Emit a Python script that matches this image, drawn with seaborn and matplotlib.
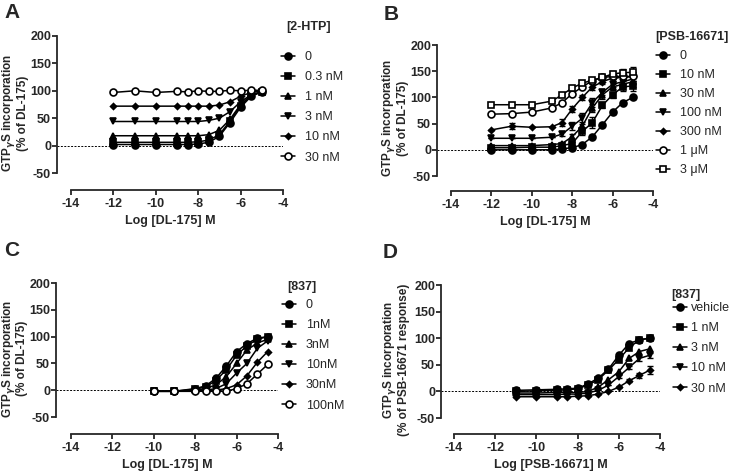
import numpy as np
import matplotlib
matplotlib.use("Agg")
import matplotlib.pyplot as plt
import seaborn as sns

sns.set_style("ticks")
plt.rcParams['font.family'] = ['Liberation Sans', 'DejaVu Sans']
plt.rcParams['font.weight'] = 'bold'
plt.rcParams['axes.labelweight'] = 'bold'
plt.rcParams['axes.unicode_minus'] = False

# ---------------- data ----------------
# Panel A: [2-HTP] vs DL-175
x_a = [-12, -11, -10, -9, -8.5, -8, -7.5, -7, -6.5, -6, -5.5, -5]
labels_a = ["0", "0.3 nM", "1 nM", "3 nM", "10 nM", "30 nM"]
a_0 = [2, 2, 2, 2, 2, 3, 6, 17, 42, 70, 90, 98]
a_03 = [6, 6, 6, 6, 6, 7, 10, 20, 45, 73, 92, 98]
a_1 = [18, 18, 18, 18, 18, 18, 20, 28, 48, 75, 92, 98]
a_3 = [44, 44, 44, 44, 44, 44, 46, 50, 62, 80, 93, 98]
a_10 = [72, 72, 72, 72, 72, 72, 72, 74, 80, 90, 97, 100]
a_30 = [97, 100, 97, 99, 98, 100, 99, 99, 101, 100, 101, 101]

# Panel B: [PSB-16671] vs DL-175
x_b = [-12, -11, -10, -9, -8.5, -8, -7.5, -7, -6.5, -6, -5.5, -5]
labels_b = ["0", "10 nM", "30 nM", "100 nM", "300 nM", "1 \u03bcM", "3 \u03bcM"]
b_0 = [0, 0, 0, 0, 2, 4, 10, 25, 48, 72, 90, 100]
b_10 = [4, 4, 5, 5, 8, 12, 35, 52, 85, 105, 120, 122]
b_30 = [8, 8, 8, 10, 12, 25, 45, 80, 105, 120, 125, 130]
b_100 = [22, 22, 22, 24, 30, 45, 60, 90, 110, 125, 130, 135]
b_300 = [38, 45, 43, 44, 52, 78, 100, 120, 130, 137, 138, 140]
b_1u = [68, 69, 72, 80, 90, 107, 120, 132, 138, 140, 140, 140]
b_3u = [86, 86, 86, 93, 105, 118, 127, 133, 138, 145, 147, 148]
err_b_0 = [0, 0, 0, 0, 0, 0, 2, 3, 3, 3, 3, 3]
err_b_10 = [0, 0, 0, 0, 0, 3, 6, 10, 6, 6, 8, 10]
err_b_30 = [0, 0, 0, 0, 2, 5, 8, 8, 8, 6, 6, 10]
err_b_100 = [0, 0, 0, 0, 4, 8, 10, 8, 6, 5, 5, 8]
err_b_300 = [0, 6, 0, 0, 6, 5, 5, 5, 5, 5, 5, 8]
err_b_1u = [0, 0, 0, 0, 3, 3, 3, 3, 3, 5, 6, 8]
err_b_3u = [0, 0, 0, 0, 3, 3, 3, 3, 3, 5, 8, 10]

# Panel C: [837] vs DL-175
x_c = [-10, -9, -8, -7.5, -7, -6.5, -6, -5.5, -5, -4.5]
labels_c = ["0", "1nM", "3nM", "10nM", "30nM", "100nM"]
c_0 = [-2, -2, 3, 8, 22, 45, 72, 87, 97, 100]
c_1 = [-2, -2, 2, 6, 18, 38, 65, 83, 95, 100]
c_3 = [-2, -2, 0, 3, 10, 25, 50, 75, 88, 95]
c_10 = [-2, -2, -1, 0, 3, 12, 32, 50, 78, 92]
c_30 = [-2, -2, -2, -1, 0, 3, 10, 27, 52, 72]
c_100 = [-2, -2, -2, -2, -2, -2, 3, 12, 30, 48]

# Panel D: [837] vs PSB-16671
x_d = [-11, -10, -9, -8.5, -8, -7.5, -7, -6.5, -6, -5.5, -5, -4.5]
labels_d = ["vehicle", "1 nM", "3 nM", "10 nM", "30 nM"]
d_veh = [2, 3, 4, 5, 6, 14, 25, 42, 68, 90, 97, 100]
d_1 = [0, 1, 2, 3, 5, 12, 22, 40, 60, 82, 97, 100]
d_3 = [-3, -3, -2, -2, -2, 0, 8, 22, 37, 62, 75, 80]
d_10 = [-6, -6, -6, -5, -5, -3, 2, 12, 28, 45, 62, 68]
d_30 = [-10, -10, -10, -10, -9, -8, -5, 0, 8, 20, 30, 40]
err_d_30 = [0, 0, 0, 0, 0, 0, 0, 0, 2, 3, 4, 8]
err_d_10 = [0, 0, 0, 0, 0, 0, 0, 0, 3, 3, 4, 5]

# marker styles: (marker, filled, size)
m_fc = ("o", True, 5)
m_fs = ("s", True, 5)
m_ut = ("^", True, 5)
m_dt = ("v", True, 5)
m_di = ("D", True, 3)
m_oc = ("o", False, 5)
m_os = ("s", False, 5)

W, H = 729, 471
fig = plt.figure(figsize=(W / 100, H / 100), dpi=100)


def box(l, t, r, b):
    return [l / W, 1 - b / H, (r - l) / W, (b - t) / H]


def draw(ax, x, series, labels, markers, errs=None):
    for i, (y, lab, mk) in enumerate(zip(series, labels, markers)):
        m, filled, ms = mk
        fc = "black" if filled else "white"
        if errs is not None and errs[i] is not None:
            ax.errorbar(x, y, yerr=errs[i], fmt="none", ecolor="black",
                        elinewidth=1.0, capsize=2.5, capthick=1.0, zorder=2)
        sns.lineplot(x=x, y=y, ax=ax, color="black", linewidth=1.1,
                     marker=m, markersize=ms, markerfacecolor=fc,
                     markeredgecolor="black", markeredgewidth=1.2,
                     label=lab, zorder=3, clip_on=False)


def style(ax, xlim_lo, ylim_lo, xlabel, ylabel, ylab_right, title, title_xy,
          leg_xy, spacing=0.65, textpad=0.8):
    ax.set_xlim(xlim_lo, -4)
    ax.set_ylim(ylim_lo, 200)
    ax.axhline(0, color="black", linestyle=(0, (2, 1.5)), linewidth=0.7, zorder=1)
    sns.despine(ax=ax)
    ax.spines["left"].set_bounds(-50, 200)
    ax.spines["bottom"].set_bounds(-14, -4)
    for sp in ("left", "bottom"):
        ax.spines[sp].set_linewidth(1.3)
    ax.set_xticks([-14, -12, -10, -8, -6, -4])
    ax.set_yticks([-50, 0, 50, 100, 150, 200])
    ax.tick_params(width=1.3, length=3.5, labelsize=9)
    ax.tick_params(axis="y", pad=0.8)
    ax.tick_params(axis="x", pad=2)
    ax.set_xlabel(xlabel, fontsize=9, labelpad=4)
    ax.set_ylabel(ylabel, fontsize=8.5, linespacing=0.95)
    # place the y label by its right edge (pixel column in the figure)
    bb = ax.get_position()
    ax.yaxis.set_label_coords((ylab_right / W - bb.x0) / bb.width, 0.5)
    ax.legend(loc="upper left", frameon=False,
              bbox_to_anchor=(leg_xy[0] / W, 1 - (leg_xy[1] - 6) / H),
              bbox_transform=fig.transFigure, borderpad=0,
              borderaxespad=0, handlelength=1.1, handletextpad=textpad,
              labelspacing=spacing, prop={"size": 9, "weight": "normal"})
    fig.text(title_xy[0] / W, 1 - title_xy[1] / H, title, fontsize=9,
             fontweight="bold", ha="left", va="center")


axA = fig.add_axes(box(57, 36, 283, 190))
draw(axA, x_a, [a_0, a_03, a_1, a_3, a_10, a_30], labels_a,
     [m_fc, m_fs, m_ut, m_dt, m_di, m_oc])
style(axA, -14.66, -81, "Log [DL-175] M",
      "GTP$_\\gamma$S incorporation\n(% of DL-175)", 29, "[2-HTP]",
      (286, 27), (281, 57))

axB = fig.add_axes(box(437, 45, 653, 191))
draw(axB, x_b, [b_0, b_10, b_30, b_100, b_300, b_1u, b_3u], labels_b,
     [m_fc, m_fs, m_ut, m_dt, m_di, m_oc, m_os],
     [err_b_0, err_b_10, err_b_30, err_b_100, err_b_300, err_b_1u, err_b_3u])
style(axB, -14.69, -78.6, "Log [DL-175] M",
      "GTP$_\\gamma$S incorporation\n(% of DL-175)", 409, "[PSB-16671]",
      (655, 37), (656, 56), spacing=0.56)

axC = fig.add_axes(box(56, 283, 278, 434))
draw(axC, x_c, [c_0, c_1, c_3, c_10, c_30, c_100], labels_c,
     [m_fc, m_fs, m_ut, m_dt, m_di, m_oc])
style(axC, -14.72, -81.7, "Log [DL-175] M",
      "GTP$_\\gamma$S incorporation\n(% of DL-175)", 28.5, "[837]",
      (287, 287), (282, 305))

axD = fig.add_axes(box(441, 285, 660, 434))
draw(axD, x_d, [d_veh, d_1, d_3, d_10, d_30], labels_d,
     [m_fc, m_fs, m_ut, m_dt, m_di],
     [None, None, None, err_d_10, err_d_30])
style(axD, -14.63, -80, "Log [PSB-16671] M",
      "GTP$_\\gamma$S incorporation\n(% of PSB-16671 response)", 410, "[837]",
      (671, 295), (673, 308), textpad=0.35)

for lab, px, py in [("A", 4, 13), ("B", 384, 14), ("C", 4, 251), ("D", 383, 252)]:
    fig.text(px / W, 1 - py / H, lab, fontsize=15, fontweight="bold",
             va="center", ha="left")

fig.savefig("out.png", dpi=100)
